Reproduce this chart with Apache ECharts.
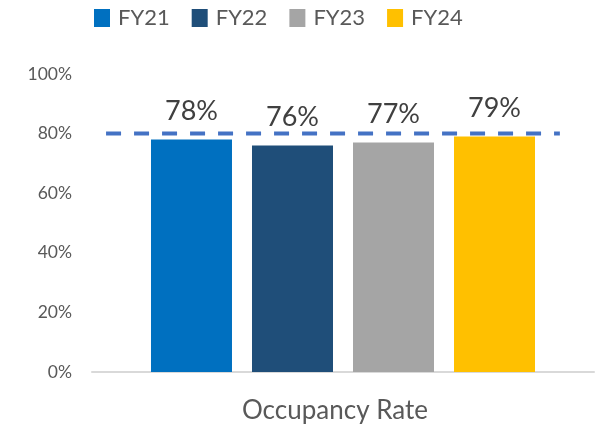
<!DOCTYPE html>
<html>
<head>
<meta charset="utf-8">
<script src="https://cdn.jsdelivr.net/npm/echarts@6/dist/echarts.min.js"></script>
<style>
  html, body { margin: 0; padding: 0; background: #fff; }
  #chart { width: 595px; height: 430px; }
</style>
</head>
<body>
<div id="chart"></div>
<script>
// Occupancy rate by fiscal year
const categories = ['Occupancy Rate']
const seriesNames = ['FY21', 'FY22', 'FY23', 'FY24']
const seriesValues = [0.78, 0.76, 0.77, 0.79]
const seriesColors = ['#0070C0', '#1F4E79', '#A5A5A5', '#FFC000']
const yTicks = [0, 0.2, 0.4, 0.6, 0.8, 1.0]
// target line: value 0.8, drawn across part of the plot width
const targetValue = 0.8
const targetSpan = [0.028, 0.932]

const font = 'Lato, "Open Sans", sans-serif'
const chart = echarts.init(document.getElementById('chart'), null, { renderer: 'canvas' })

const barSeries = seriesNames.map((name, i) => ({
  name,
  type: 'bar',
  data: [seriesValues[i]],
  barWidth: 81,
  barGap: '24.7%',
  itemStyle: { color: seriesColors[i] },
  label: {
    show: true,
    position: 'top',
    distance: 15,
    fontFamily: font,
    fontSize: 27,
    color: '#404040',
    formatter: p => Math.round(p.value * 100) + '%',
  },
}))

const option = {
  animation: false,
  backgroundColor: '#fff',
  textStyle: { fontFamily: font },
  legend: {
    data: seriesNames,
    top: 7,
    left: 94,
    padding: 0,
    itemWidth: 16,
    itemHeight: 18,
    itemGap: 22,
    icon: 'rect',
    textStyle: { fontSize: 22, color: '#595959', fontFamily: font, padding: [0, 0, 0, 3] },
  },
  grid: { left: 92, right: 1, top: 74, bottom: 58 },
  xAxis: [
    {
      type: 'category',
      data: categories,
      axisTick: { show: false },
      axisLabel: {
        fontSize: 26,
        color: '#595959',
        margin: 26,
        padding: [0, 16, 0, 0],
        fontFamily: font,
      },
      axisLine: { lineStyle: { color: '#D9D9D9', width: 2 } },
    },
    {
      type: 'value',
      min: 0,
      max: 1,
      show: false,
    },
  ],
  yAxis: {
    type: 'value',
    min: yTicks[0],
    max: yTicks[yTicks.length - 1],
    interval: 0.2,
    splitLine: { show: false },
    axisLine: { show: false },
    axisTick: { show: false },
    axisLabel: {
      fontSize: 17.5,
      color: '#595959',
      margin: 20,
      fontFamily: font,
      formatter: v => Math.round(v * 100) + '%',
    },
  },
  series: [
    ...barSeries,
    {
      name: 'Target',
      type: 'line',
      xAxisIndex: 1,
      data: targetSpan.map(x => [x, targetValue]),
      symbol: 'none',
      lineStyle: { color: '#4472C4', width: 4, type: [15, 13] },
      z: 5,
    },
  ],
}

chart.setOption(option)
</script>
</body>
</html>
